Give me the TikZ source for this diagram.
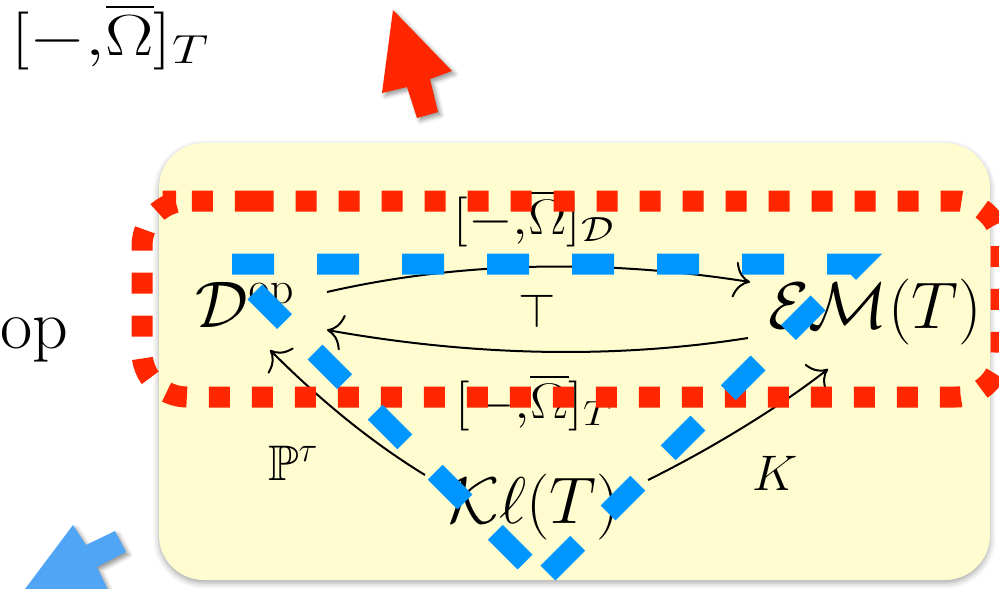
\RequirePackage{fix-cm}
\documentclass[tikz,border=0pt]{standalone}
\usepackage{amssymb}
\usepackage{graphicx}
\usetikzlibrary{arrows.meta,shadows.blur}
\definecolor{boxyellow}{RGB}{255,253,208}
\definecolor{dotred}{RGB}{255,38,0}
\definecolor{dashblue}{RGB}{0,150,255}
\definecolor{arrblue}{RGB}{80,165,245}
\newcommand\fsz[1]{\fontsize{#1}{#1}\selectfont}
\newcommand\widen[2]{\scalebox{#1}[1]{#2}}
\tikzset{
  obj/.style={inner sep=0pt, anchor=base, font=\fsz{66}},
  lbl/.style={inner sep=0pt, anchor=base, font=\fsz{50}},
  arr/.style={line width=2pt, -{To[length=16pt,width=36pt]}},
  bigarrow/.style={blur shadow={shadow xshift=3pt, shadow yshift=-3pt, shadow blur radius=4pt, shadow opacity=40}},
  redloop/.style={dotred, line width=21pt, dash pattern=on 21pt off 22pt, rounded corners=45pt},
  bluetri/.style={dashblue, line width=21pt, dash pattern=on 42pt off 43pt},
}
\begin{document}
\begin{tikzpicture}[x=1pt,y=-1pt]
\useasboundingbox (0,0) rectangle (999,589);
\clip (0,0) rectangle (999,589);
% yellow box
\fill[boxyellow, rounded corners=45pt, blur shadow={shadow xshift=0pt, shadow yshift=-3pt, shadow blur radius=6pt, shadow opacity=35}] (159,143) rectangle (990,580);
% outside texts
\node[inner sep=0pt, anchor=base, font=\fsz{58}] (omegaTop) at (110,55) {\widen{1.25}{$[-{,}\overline{\Omega}]_T$}};
\node[inner sep=0pt, anchor=base west, font=\fsz{70}] (op) at (0,348) {op};
% big arrows
\fill[dotred, bigarrow] (393,10) -- (452,71) -- (430,79) -- (438,112) -- (417,118) -- (407,87) -- (382,93) -- cycle;
\fill[arrblue, bigarrow] (22,593) -- (73,525) -- (86,545) -- (115,531) -- (126,552) -- (97,567) -- (108,590) -- cycle;
% objects
\node[obj] (D) at (245,327) {$\mathcal{D}^{\mathrm{op}}$};
\node[obj] (EM) at (875,328) {$\mathcal{E}\mathcal{M}(T)$};
\node[obj] (KL) at (534,523) {$\mathcal{K}\ell(T)$};
% labels
\node[lbl] (omegaD) at (534,234) {\widen{1.15}{$[-{,}\overline{\Omega}]_{\mathcal{D}}$}};
\node[lbl, font=\fsz{48}] (adj) at (537,327) {$\top$};
\node[lbl] (omegaT) at (534,418) {\widen{1.15}{$[-{,}\overline{\Omega}]_T$}};
\node[lbl] (P) at (293,480) {$\mathbb{P}^{\tau}$};
\node[lbl] (Klab) at (775,490) {$K$};
% connectors
\draw[arr] ([shift={(82,-35)}]D.base) .. controls +(140,-32) and +(-140,-22) .. ([shift={(-125,-46)}]EM.base);
\draw[arr] ([shift={(-127,10)}]EM.base) .. controls +(-140,22) and +(140,25) .. ([shift={(82,3)}]D.base);
\draw[arr] ([shift={(-109,-48)}]KL.base) .. controls +(-62,-38) and +(42,42) .. ([shift={(25,23)}]D.base);
\draw[arr] ([shift={(114,-43)}]KL.base) .. controls +(63,-31) and +(-47,37) .. ([shift={(-47,41)}]EM.base);
% overlays
\draw[redloop] (207.5,201) -- (1001,201) -- (1001,397) -- (142,397) -- (142,201) -- cycle;
\draw[bluetri, dash phase=82pt] (229,264) -- (857,264) -- (544,577);
\draw[bluetri, dash phase=61pt] (542,579) -- (229,266);
\end{tikzpicture}
\end{document}
